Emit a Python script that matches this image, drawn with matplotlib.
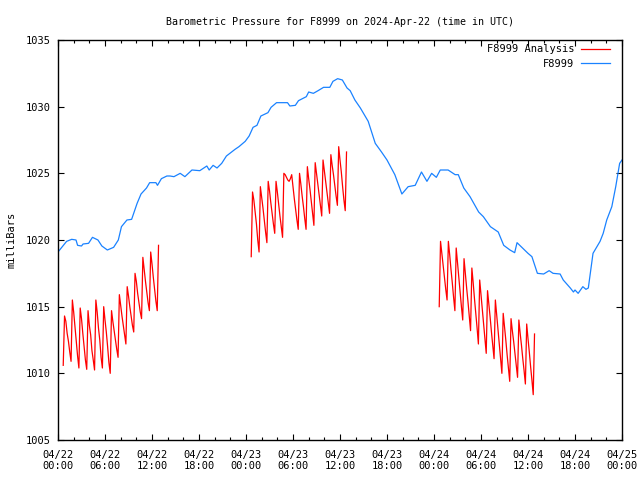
import matplotlib
matplotlib.use("Agg")
import matplotlib.pyplot as plt
import numpy as np

# F8999 (blaa linjen) - timmar fran 04/22 00:00 UTC
tider_f8999 = [0.0, 1.1, 1.75, 2.3, 2.5, 3.0, 3.2, 3.9, 4.4, 5.1, 5.6, 6.3, 7.1, 7.7,
               8.1, 8.8, 9.4, 10.1, 10.6, 11.3, 11.7, 12.5, 12.7, 13.2, 13.9, 14.3,
               14.8, 15.6, 16.2, 17.1, 18.1, 19.0, 19.3, 19.8, 20.3, 20.9, 21.5, 22.6,
               23.1, 23.9, 24.4, 24.9, 25.4, 25.9, 26.8, 27.2, 27.9, 29.3, 29.6, 30.3,
               30.7, 31.7, 32.0, 32.6, 33.2, 33.9, 34.7, 35.1, 35.7, 36.3, 36.9, 37.3,
               37.9, 38.6, 39.6, 40.5, 41.3, 42.0, 43.0, 43.9, 44.7, 45.6, 46.4, 47.1,
               47.7, 48.3, 48.8, 49.8, 50.7, 51.1, 51.8, 52.6, 53.7, 54.3, 55.2, 56.2,
               56.9, 57.7, 58.3, 58.6, 59.3, 60.0, 60.5, 61.2, 62.0, 62.7, 63.2, 64.1,
               64.5, 65.4, 65.8, 66.0, 66.4, 67.0, 67.4, 67.7, 68.3, 69.2, 69.6, 70.05,
               70.7, 71.2, 71.7, 72.0]
tryck_f8999 = [1019.1, 1019.9, 1020.05, 1020.0, 1019.6, 1019.55, 1019.7, 1019.75, 1020.2,
               1020.0, 1019.55, 1019.25, 1019.45, 1020.0, 1021.0, 1021.5, 1021.55, 1022.75,
               1023.45, 1023.9, 1024.3, 1024.3, 1024.1, 1024.6, 1024.8, 1024.8, 1024.75,
               1025.0, 1024.75, 1025.25, 1025.2, 1025.55, 1025.25, 1025.6, 1025.4, 1025.75,
               1026.3, 1026.8, 1027.0, 1027.4, 1027.8, 1028.45, 1028.6, 1029.3, 1029.55,
               1029.95, 1030.3, 1030.3, 1030.05, 1030.1, 1030.45, 1030.75, 1031.1, 1031.0,
               1031.2, 1031.45, 1031.45, 1031.9, 1032.1, 1032.0, 1031.4, 1031.2, 1030.5,
               1029.9, 1028.9, 1027.25, 1026.6, 1026.0, 1024.9, 1023.45, 1024.0, 1024.1,
               1025.1, 1024.4, 1025.0, 1024.7, 1025.25, 1025.25, 1024.9, 1024.9, 1023.9,
               1023.25, 1022.1, 1021.75, 1021.0, 1020.6, 1019.6, 1019.25, 1019.05, 1019.8,
               1019.4, 1019.0, 1018.75, 1017.5, 1017.45, 1017.7, 1017.5, 1017.45, 1017.0,
               1016.4, 1016.1, 1016.25, 1016.0, 1016.5, 1016.3, 1016.4, 1019.0, 1019.9,
               1020.5, 1021.5, 1022.5, 1024.0, 1025.75, 1026.0]

# F8999 Analysis (roda) - tre perioder, ett varde var tionde minut
analys_start = [0.667, 24.667, 48.667]   # timmar
analys_1 = [1010.6,
            1014.3, 1013.9, 1013.0, 1012.4, 1011.6, 1010.9,
            1015.5, 1014.6, 1013.5, 1012.4, 1011.3, 1010.4,
            1014.9, 1014.1, 1013.0, 1012.0, 1011.0, 1010.3,
            1014.7, 1013.6, 1012.9, 1011.7, 1011.0, 1010.25,
            1015.5, 1014.6, 1013.4, 1012.5, 1011.2, 1010.4,
            1015.0, 1014.0, 1013.1, 1012.0, 1010.8, 1010.0,
            1014.7, 1013.9, 1013.2, 1012.5, 1011.8, 1011.2,
            1015.9, 1015.1, 1014.3, 1013.6, 1012.9, 1012.2,
            1016.5, 1015.8, 1015.0, 1014.3, 1013.6, 1013.1,
            1017.5, 1016.9, 1016.0, 1015.3, 1014.6, 1014.1,
            1018.7, 1017.8, 1016.9, 1016.1, 1015.3, 1014.7,
            1019.1, 1018.2, 1017.2, 1016.3, 1015.4, 1014.7,
            1019.6]
analys_2 = [1018.75,
            1023.6, 1023.0, 1022.1, 1021.2, 1020.0, 1019.1,
            1024.0, 1023.2, 1022.4, 1021.5, 1020.6, 1019.8,
            1024.4, 1023.7, 1022.8, 1022.0, 1021.2, 1020.5,
            1024.4, 1023.6, 1022.7, 1021.8, 1021.0, 1020.2,
            1025.0, 1024.9, 1024.7, 1024.5, 1024.4, 1024.6,
            1024.9, 1024.0, 1023.1, 1022.3, 1021.5, 1020.8,
            1025.0, 1024.2, 1023.3, 1022.5, 1021.6, 1020.8,
            1025.5, 1024.6, 1023.8, 1022.9, 1022.0, 1021.1,
            1025.8, 1025.0, 1024.2, 1023.4, 1022.6, 1021.8,
            1026.0, 1025.2, 1024.4, 1023.6, 1022.8, 1022.0,
            1026.4, 1025.6, 1024.9, 1024.1, 1023.3, 1022.6,
            1027.0, 1026.0, 1025.1, 1024.0, 1023.0, 1022.2,
            1026.6]
analys_3 = [1015.0,
            1019.9, 1019.0, 1018.1, 1017.2, 1016.3, 1015.5,
            1019.9, 1018.9, 1017.8, 1016.8, 1015.7, 1014.7,
            1019.4, 1018.3, 1017.2, 1016.1, 1015.0, 1014.0,
            1018.6, 1017.5, 1016.4, 1015.4, 1014.3, 1013.2,
            1017.9, 1016.8, 1015.6, 1014.5, 1013.4, 1012.2,
            1017.0, 1015.9, 1014.8, 1013.7, 1012.6, 1011.5,
            1016.2, 1015.2, 1014.2, 1013.1, 1012.1, 1011.1,
            1015.5, 1014.4, 1013.3, 1012.2, 1011.1, 1010.0,
            1014.5, 1013.5, 1012.5, 1011.4, 1010.4, 1009.4,
            1014.1, 1013.2, 1012.4, 1011.5, 1010.6, 1009.7,
            1014.0, 1013.0, 1012.1, 1011.1, 1010.2, 1009.2,
            1013.7, 1012.6, 1011.6, 1010.5, 1009.5, 1008.4,
            1012.95]

x_etiketter = ['04/22\n00:00', '04/22\n06:00', '04/22\n12:00', '04/22\n18:00',
               '04/23\n00:00', '04/23\n06:00', '04/23\n12:00', '04/23\n18:00',
               '04/24\n00:00', '04/24\n06:00', '04/24\n12:00', '04/24\n18:00',
               '04/25\n00:00']

plt.rcParams['font.family'] = 'DejaVu Sans Mono'
plt.rcParams['font.size'] = 7.5

fig = plt.figure(figsize=(6.4, 4.8), dpi=100)
ax = fig.add_axes([58 / 640, 40 / 480, 564 / 640, 400 / 480])

forsta = True
for start, varden in zip(analys_start, [analys_1, analys_2, analys_3]):
    t = start + np.arange(len(varden)) / 6.0
    ax.plot(t, varden, color='red', lw=0.9,
            label='F8999 Analysis' if forsta else None)
    forsta = False

ax.plot(tider_f8999, tryck_f8999, color='#1a82ff', lw=0.9, label='F8999')

ax.set_xlim(0, 72)
ax.set_ylim(1005, 1035)
ax.set_xticks(np.arange(0, 73, 6))
ax.set_xticklabels(x_etiketter)
ax.set_xticks(np.arange(0, 73, 2), minor=True)
ax.set_yticks(np.arange(1005, 1036, 5))
ax.tick_params(which='both', direction='in', top=True, right=True, width=0.8,
               labelsize=7.5)
ax.tick_params(axis='x', pad=7)
ax.tick_params(axis='y', pad=5)
ax.tick_params(which='major', length=4.5)
ax.tick_params(which='minor', length=2.5)
for s in ax.spines.values():
    s.set_linewidth(1.0)

ax.set_ylabel('milliBars', labelpad=7)
ax.set_title('Barometric Pressure for F8999 on 2024-Apr-22 (time in UTC)',
             fontsize=7.2, pad=11)

leg = ax.legend(loc='upper right', frameon=False, markerfirst=False,
                handlelength=2.8, borderaxespad=0, labelspacing=0.45,
                handletextpad=0.6,
                bbox_to_anchor=(614 / 640, 1 - 40 / 480),
                bbox_transform=fig.transFigure)

plt.savefig('out.png', dpi=100)
